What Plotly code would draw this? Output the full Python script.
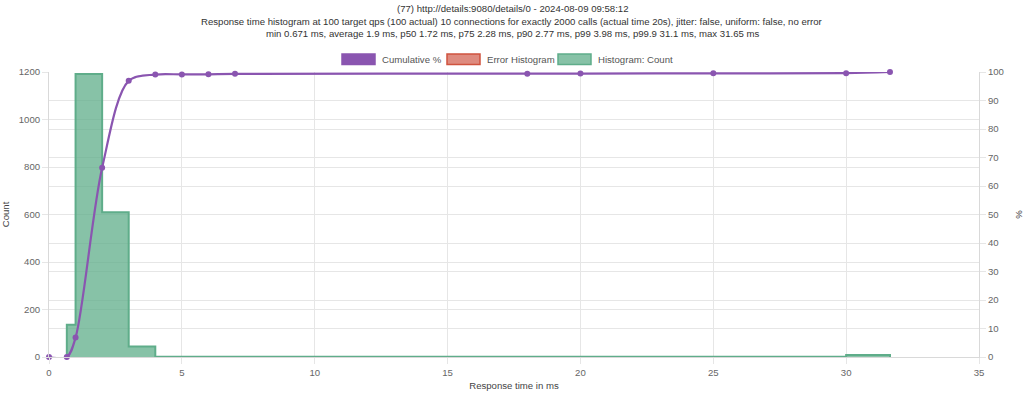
import plotly.graph_objects as go

# ---- data ----
bucket_start = [0.671, 1, 2, 3, 4, 5, 6, 16, 18, 20, 25, 30]
bucket_end = [1, 2, 3, 4, 5, 6, 7, 18, 20, 25, 30, 31.65]
bucket_count = [136, 1192, 610, 44, 1, 1, 3, 1, 1, 2, 1, 8]

cum_x = [0, 0.671, 1, 2, 3, 4, 5, 6, 7, 18, 20, 25, 30, 31.65]
cum_pct = [0, 0, 6.8, 66.4, 96.9, 99.1, 99.15, 99.2, 99.35, 99.4, 99.45, 99.55, 99.6, 100]

title_lines = [
    "(77) http://details:9080/details/0 - 2024-08-09 09:58:12",
    "Response time histogram at 100 target qps (100 actual) 10 connections for exactly 2000 calls (actual time 20s), jitter: false, uniform: false, no error",
    "min 0.671 ms, average 1.9 ms, p50 1.72 ms, p75 2.28 ms, p90 2.77 ms, p99 3.98 ms, p99.9 31.1 ms, max 31.65 ms",
]
legend_names = ["Cumulative %", "Error Histogram", "Histogram: Count"]

# ---- styles ----
FONT = "Liberation Sans, Arial, Helvetica, sans-serif"
FS = 9.6
PURPLE = "#8a55b0"
GREEN_LINE = "#5fad8a"
GREEN_FILL = "rgba(95,173,138,0.75)"
RED_LINE = "#d0533f"
RED_FILL = "rgba(214,110,95,0.8)"
GRID = "#e6e6e6"

W, H = 1024, 397
L, R, T, B = 49, 45, 72, 40
PW, PH = W - L - R, H - T - B

# build stepped histogram outline from buckets
hx, hy = [bucket_start[0]], [0]
prev_end = bucket_start[0]
for s, e, c in zip(bucket_start, bucket_end, bucket_count):
    if s != prev_end:
        hx += [prev_end, s]
        hy += [0, 0]
    hx += [s, e]
    hy += [c, c]
    prev_end = e
hx.append(prev_end)
hy.append(0)

fig = go.Figure()
fig.add_trace(go.Scatter(
    x=hx, y=hy, mode="lines", fill="tozeroy", fillcolor=GREEN_FILL,
    line=dict(color=GREEN_LINE, width=2), name=legend_names[2],
    showlegend=False, yaxis="y", hoverinfo="skip"))
fig.add_trace(go.Scatter(
    x=cum_x, y=cum_pct, mode="lines+markers", yaxis="y2", cliponaxis=False,
    line=dict(color=PURPLE, width=2.2, shape="spline", smoothing=0.9),
    marker=dict(color=PURPLE, size=6), name=legend_names[0], showlegend=False))

axis_common = dict(
    showgrid=True, gridcolor=GRID, gridwidth=1, zeroline=False,
    ticks="outside", ticklen=6, tickcolor=GRID, automargin=False,
    tickfont=dict(family=FONT, size=FS, color="#666"),
    showline=True, linecolor="#d9d9d9", linewidth=1,
)

fig.update_layout(
    width=W, height=H,
    margin=dict(l=L, r=R, t=T, b=B, pad=0),
    paper_bgcolor="white", plot_bgcolor="white",
    font=dict(family=FONT, size=FS, color="#666"),
    xaxis=dict(range=[0, 35], dtick=5, tick0=0,
               title=dict(text="Response time in ms", font=dict(family=FONT, size=FS, color="#444"), standoff=5),
               **axis_common),
    yaxis=dict(range=[0, 1200], dtick=200,
               title=dict(text="Count", font=dict(family=FONT, size=FS, color="#444"), standoff=10),
               **axis_common),
    yaxis2=dict(range=[0, 100], dtick=10, overlaying="y", side="right",
                title=dict(text="%", font=dict(family=FONT, size=FS, color="#444"), standoff=14),
                **axis_common),
    showlegend=False,
)

def px_to_xpaper(px):
    return (px - L) / PW
def py_to_ypaper(py):
    return (H - B - py) / PH

annotations = []
for i, line in enumerate(title_lines):
    annotations.append(dict(
        text=line, x=px_to_xpaper(512), xref="paper", xanchor="center",
        y=py_to_ypaper(9 + 12 * i), yref="paper",
        yanchor="middle", showarrow=False,
        font=dict(family=FONT, size=FS, color="#333")))

# custom legend (Chart.js style boxes)
legend_items = [
    (342, 380, legend_names[0], PURPLE, PURPLE),
    (447, 485, legend_names[1], RED_FILL, RED_LINE),
    (558, 596, legend_names[2], GREEN_FILL, GREEN_LINE),
]

shapes = []
for bx, tx, name, fill, edge in legend_items:
    shapes.append(dict(type="rect", xref="paper", yref="paper",
                       x0=px_to_xpaper(bx), x1=px_to_xpaper(bx + 33),
                       y0=py_to_ypaper(64.5), y1=py_to_ypaper(54),
                       fillcolor=fill, line=dict(color=edge, width=1.5)))
    annotations.append(dict(text=name, x=px_to_xpaper(tx), y=py_to_ypaper(59.3),
                            xref="paper", yref="paper", xanchor="left", yanchor="middle",
                            showarrow=False, font=dict(family=FONT, size=FS, color="#555")))

fig.update_layout(annotations=annotations, shapes=shapes)
fig.write_html("out.html")
